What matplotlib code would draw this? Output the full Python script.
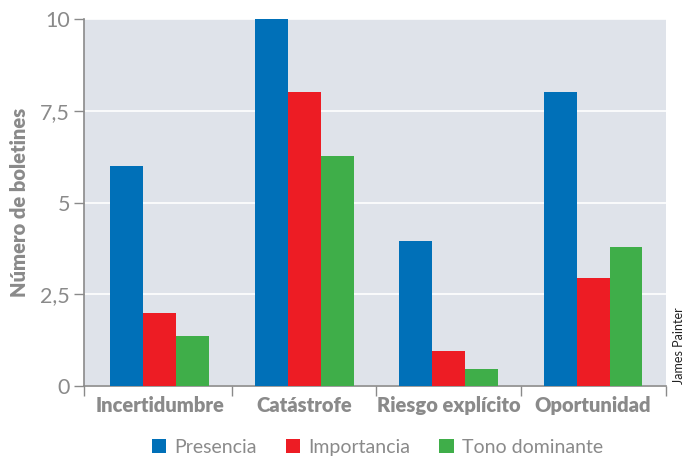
import matplotlib
matplotlib.use("Agg")
import matplotlib.pyplot as plt
import numpy as np
from matplotlib.patches import Patch
from matplotlib.ticker import FuncFormatter

categories = ["Incertidumbre", "Catástrofe", "Riesgo explícito", "Oportunidad"]
presencia = [6.0, 10.0, 3.95, 8.0]
importancia = [2.0, 8.0, 0.95, 2.95]
tono = [1.35, 6.27, 0.47, 3.8]
series = ["Presencia", "Importancia", "Tono dominante"]
colors = ["#0070b8", "#ed1c24", "#3fae49"]
y_ticks = [0, 2.5, 5, 7.5, 10]

GRAY = "#8a8a8a"
BG = "#dfe3ea"
plt.rcParams["font.family"] = ["Lato", "DejaVu Sans"]

fig = plt.figure(figsize=(6.86, 4.59), dpi=100)
ax = fig.add_axes([0.1224, 0.159, 0.8484, 0.7996])
ax.set_facecolor(BG)

x = np.arange(len(categories))
w = 0.228
for i, (vals, c) in enumerate(zip([presencia, importancia, tono], colors)):
    ax.bar(x + (i - 1) * w, vals, width=w, color=c, zorder=3, linewidth=0)

ax.set_xlim(-0.525, 3.505)
ax.set_ylim(0, 10)
ax.set_yticks(y_ticks)
ax.yaxis.set_major_formatter(FuncFormatter(
    lambda v, p: (f"{v:g}").replace(".", ",")))
ax.grid(axis="y", color="white", lw=1.2, zorder=1)
ax.set_axisbelow(True)

ax.set_xticks(x)
ax.set_xticklabels(categories, fontsize=14.5, fontweight="heavy", color=GRAY)
ax.set_xticks([-0.525, 0.5, 1.5, 2.5, 3.505], minor=True)
ax.tick_params(axis="x", which="major", length=0, pad=7)
ax.tick_params(axis="x", which="minor", length=7, color=GRAY, width=1)
ax.tick_params(axis="y", length=7, color=GRAY, width=1, labelsize=15.5,
               labelcolor=GRAY, pad=3)

for s in ["top", "right"]:
    ax.spines[s].set_visible(False)
for s in ["left", "bottom"]:
    ax.spines[s].set_color(GRAY)
    ax.spines[s].set_linewidth(1.2)

ax.set_ylabel("Número de boletines", fontsize=14.5, fontweight="heavy",
              color=GRAY, labelpad=8)

handles = [Patch(facecolor=c, label=s) for s, c in zip(series, colors)]
leg = fig.legend(handles=handles, loc="center", bbox_to_anchor=(0.55, 0.026),
                 ncol=3, frameon=False, fontsize=14, handlelength=0.75,
                 handleheight=0.75, handletextpad=0.4, columnspacing=1.5)
for t in leg.get_texts():
    t.set_color(GRAY)

fig.text(0.99, 0.246, "James Painter", rotation=90, fontsize=9,
         color="#222222", ha="center", va="center")

fig.savefig("out.png", dpi=100)
